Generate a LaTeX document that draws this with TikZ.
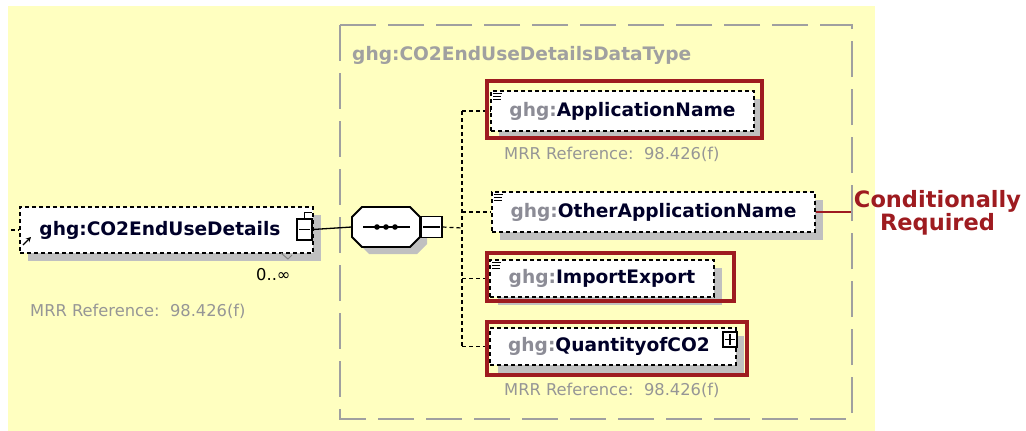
\documentclass[tikz,border=0pt]{standalone}
\usepackage{fontspec}
\setmainfont{DejaVu Sans}
\usetikzlibrary{shadows, arrows.meta, positioning}

\definecolor{bgyellow}{RGB}{255,255,192}
\definecolor{reqred}{RGB}{158,27,32}
\definecolor{typegray}{RGB}{160,160,160}
\definecolor{shadegray}{RGB}{192,192,192}
\definecolor{pfxgray}{RGB}{140,140,150}
\definecolor{notegray}{RGB}{150,150,150}
\definecolor{navy}{RGB}{0,0,40}

\newcommand{\lblfont}{\fontsize{18.6pt}{20pt}\selectfont\bfseries}
\newcommand{\notefont}{\fontsize{16.3pt}{18pt}\selectfont}
\newcommand{\condfont}{\fontsize{22.5pt}{23pt}\selectfont\bfseries}
\newcommand{\pfx}{\textcolor{pfxgray}{ghg:}}

\begin{document}
\begin{tikzpicture}[x=1pt, y=-1pt,
  elem/.style={draw=black, dash pattern=on 4pt off 3pt, line width=1.2pt, fill=white, inner sep=0pt,
    general shadow={shadow xshift=8pt, shadow yshift=-8pt, fill=shadegray, draw=none},
    font=\lblfont, text=navy},
  reqbox/.style={draw=reqred, line width=4pt},
  btn/.style={draw=black, fill=white, line width=1.3pt, inner sep=0pt},
  conn/.style={line width=1.2pt, dash pattern=on 4pt off 3pt},
  note/.style={font=\notefont, text=notegray, inner sep=0pt, anchor=base west}]

  % Background
  \useasboundingbox (0,0) rectangle (1026,431);
  \fill[bgyellow] (8,6) rectangle (875,431);
  \draw[typegray, line width=2pt, dash pattern=on 36pt off 12pt] (340,25) rectangle (852,419);
  \node[font=\lblfont, text=typegray, anchor=base west, inner sep=0pt] (typename) at (352,60) {ghg:CO2EndUseDetailsDataType};

  % Sequence octagon
  \fill[shadegray, shift={(7,7)}] (362,207) -- (410,207) -- (420,217) -- (420,237) -- (410,247) -- (362,247) -- (352,237) -- (352,217) -- cycle;
  \filldraw[fill=white, draw=black, line width=1.8pt] (362,207) -- (410,207) -- (420,217) -- (420,237) -- (410,247) -- (362,247) -- (352,237) -- (352,217) -- cycle;

  % Nodes
  \node[elem, minimum width=293, minimum height=46] (topel) at (166.5,230) {\hspace*{-13pt}ghg:CO2EndUseDetails};
  \node[btn, minimum width=15, minimum height=21] (elbtn) at (304.5,229.5) {};
  \node[minimum width=68, minimum height=40, inner sep=0pt] (seq) at (386,227) {};
  \node[btn, minimum width=21, minimum height=21, right=0pt of seq] (seqbtn) {};
  \coordinate (hub) at (462,228);
  \coordinate (instub) at (11,230);

  \node[elem, minimum width=263, minimum height=40] (appname) at (622.5,111) {\pfx ApplicationName};
  \node[elem, minimum width=323, minimum height=40] (other) at (653.5,212) {\pfx OtherApplicationName};
  \node[elem, minimum width=224, minimum height=37] (impexp) at (602,278.5) {\pfx ImportExport};
  \node[elem, minimum width=246, minimum height=37] (qty) at (613,346.5) {\pfx QuantityofCO2\hspace*{8pt}};
  \node[btn, minimum width=14, minimum height=15] (qtybtn) at (730,339.5) {};

  \node[note] (topref) at (30,316) {MRR Reference:\ \ 98.426(f)};
  \node[note] (appref) at (504,159) {MRR Reference:\ \ 98.426(f)};
  \node[note] (qtyref) at (504,395) {MRR Reference:\ \ 98.426(f)};
  \node[font=\notefont, text=black, anchor=base west, inner sep=0pt] (occurs) at (256,280) {0..∞};
  \node[font=\condfont, text=reqred, align=center, inner sep=3pt] (cond) at (937.5,213) {Conditionally\\Required};

  % Arrows
  \draw[conn] (instub) -- (topel.west);
  \draw[line width=1.3pt] (elbtn.east) -- (seq.west);
  \draw[conn] (seqbtn.east) -- (hub);
  \draw[conn] (hub |- appname.west) -- (hub |- qty.west);
  \foreach \n in {appname, other, impexp, qty}
    \draw[conn] (hub |- \n.west) -- (\n.west);
  \draw[reqred, line width=2.5pt] (other.east) -- (other.east -| cond.west);

  % Icons
  \draw[-{Stealth[length=5pt, width=5pt]}, line width=1.4pt] (23,245) -- (31,237);
  \draw[gray, line width=1pt] (281,253) -- (288,259) -- (292,255);
  \draw[line width=1.2pt] ([xshift=3]elbtn.west) -- ([xshift=-3]elbtn.east);
  \draw[line width=1.2pt] (elbtn.north) -- ++(0,-6) -- ++(7,0);
  \draw[line width=1.2pt] ([xshift=3]seqbtn.west) -- ([xshift=-3]seqbtn.east);
  \draw[line width=1.2pt] ([xshift=3]qtybtn.west) -- ([xshift=-3]qtybtn.east);
  \draw[line width=1.2pt] ([yshift=3]qtybtn.south) -- ([yshift=-3]qtybtn.north);
  \draw[line width=1.3pt] ([xshift=-23]seq.center) -- ([xshift=24]seq.center);
  \foreach \dx in {-9,0,9}
    \fill ([xshift=\dx]seq.center) circle (2.8);
  \foreach \n in {appname, other, impexp}
    \foreach \dy/\len in {3/9, 6/8, 9/8}
      \draw[line width=1pt] ([shift={(3,\dy)}]\n.north west) -- ++(\len,0);

  % Required highlights
  \draw[reqbox] ([shift={(-3,-9)}]appname.north west) rectangle ([shift={(7,6)}]appname.south east);
  \draw[reqbox] ([shift={(-2,-6)}]impexp.north west) rectangle ([shift={(19,3)}]impexp.south east);
  \draw[reqbox] ([shift={(-2,-5)}]qty.north west) rectangle ([shift={(10,9)}]qty.south east);

\end{tikzpicture}
\end{document}
